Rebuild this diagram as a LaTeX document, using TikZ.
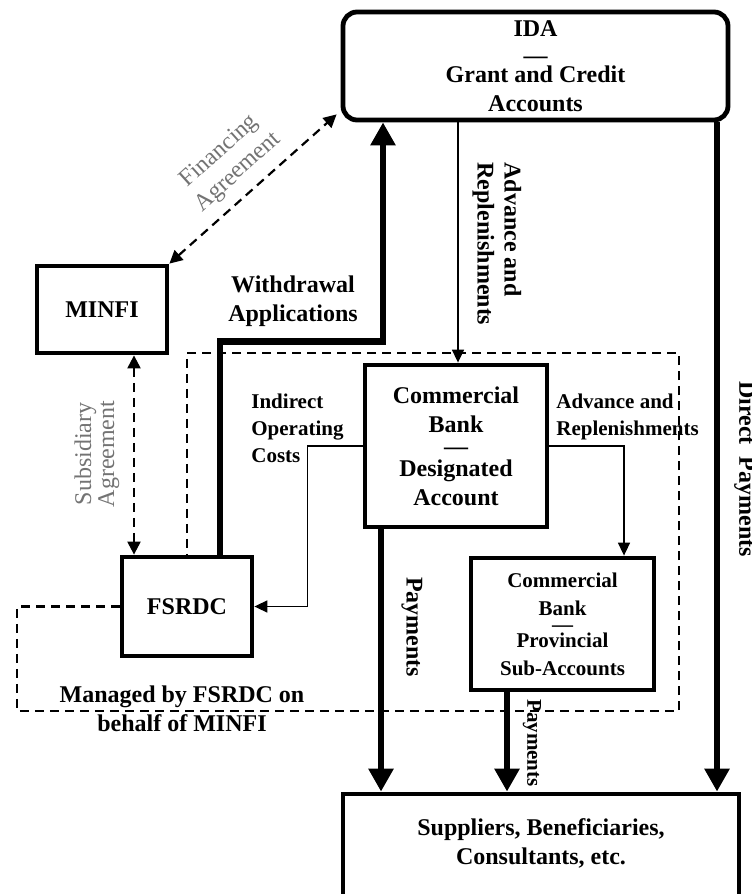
\documentclass[tikz,border=0pt]{standalone}
\usepackage{fontspec}
\setmainfont{Liberation Serif}
\usetikzlibrary{arrows.meta}
\usetikzlibrary{shapes}

\begin{document}
\begin{tikzpicture}[x=0.5pt, y=-0.5pt]

\tikzstyle{account}=[rectangle, draw=black, line width=2.4pt, inner sep=0pt, align=center, font=\bfseries\fontsize{12}{14.5}\selectfont]
\tikzstyle{subaccount}=[account, font=\bfseries\fontsize{10.5}{14}\selectfont]
\tikzstyle{tag}=[align=center, inner sep=0pt, font=\bfseries\fontsize{12}{14.5}\selectfont]
\tikzstyle{smalltag}=[align=left, inner sep=0pt, font=\bfseries\fontsize{10.5}{13.5}\selectfont]
\tikzstyle{greytag}=[align=center, inner sep=0pt, text=black!55, font=\fontsize{12}{14}\selectfont]

\tikzstyle{flow}=[-{Triangle[length=11.5pt, width=12pt]}, line width=3.4pt]
\tikzstyle{transfer}=[-{Triangle[length=6.5pt, width=6pt]}, line width=0.8pt]
\tikzstyle{agreement}=[{Triangle[length=6.5pt, width=6.5pt]}-{Triangle[length=6.5pt, width=6.5pt]}, line width=1.1pt, dash pattern=on 4.5pt off 3pt]
\tikzstyle{managed}=[line width=1.1pt, dash pattern=on 4.5pt off 3pt]

\useasboundingbox (0,0) rectangle (751,894);

\node[account, rounded corners=7pt, minimum width=192.5pt, minimum height=54pt] (ida) at (535.5,66) {IDA\\[-1pt]—\\[-5pt]Grant and Credit\\Accounts};
\node[account, minimum width=65pt, minimum height=43.5pt] (minfi) at (102,309.5) {MINFI};
\node[account, minimum width=65pt, minimum height=49.5pt] (fsrdc) at (187,606.5) {FSRDC};
\node[account, minimum width=91pt, minimum height=81pt] (bank) at (456,446) {Commercial\\Bank\\[-3.5pt]—\\[-3.5pt]Designated\\Account};
\node[subaccount, minimum width=91.5pt, minimum height=66pt] (province) at (562.5,624) {Commercial\\Bank\\[-6pt]—\\[-6pt]Provincial\\Sub-Accounts};
\node[account, minimum width=198pt, minimum height=100pt] (supplier) at (541,894) {};
\node[tag] (suppliertext) at (541,843) {Suppliers, Beneficiaries,\\Consultants, etc.};

\coordinate (regionSW) at (17,711);
\coordinate (regionNE) at (679,353);
\draw[managed] (fsrdc.west) -| (regionSW) -| (regionNE) -| (fsrdc.north);

\draw[agreement] (minfi.north east) -- ([xshift=-2pt, yshift=4pt]ida.south west);
\draw[agreement] ([xshift=16pt]minfi.south) -- ([xshift=16pt]minfi.south |- fsrdc.north);

\draw[flow] ([xshift=16.5pt]fsrdc.north) -- ++(0,-213) -| ([xshift=-76.25pt]ida.south);
\draw[transfer] ([xshift=-38.75pt]ida.south) -- ([xshift=-38.75pt]ida.south |- bank.north);
\draw[flow] ([xshift=90.75pt]ida.south) -- ([xshift=90.75pt]ida.south |- supplier.north);
\draw[transfer] (bank.west) -- ++(-55,0) |- (fsrdc.east);
\draw[transfer] (bank.east) -| ([xshift=30.75pt]province.north);
\draw[flow] ([xshift=-37.5pt]bank.south) -- ([xshift=-37.5pt]bank.south |- supplier.north);
\draw[flow] ([xshift=-27.75pt]province.south) -- ([xshift=-27.75pt]province.south |- supplier.north);

\node[greytag, rotate=42] (financing) at (229,162) {Financing\\Agreement};
\node[greytag, rotate=90, font=\fontsize{12}{11.5}\selectfont] (subsidiary) at (97,454) {Subsidiary\\Agreement};
\node[tag] (withdrawal) at (293,301) {Withdrawal\\Applications};
\node[tag, rotate=-90, align=left, font=\bfseries\fontsize{12}{13.5}\selectfont] (advance) at (497,244) {Advance and\\Replenishments};
\node[smalltag, anchor=west] (indirect) at (251,428) {Indirect\\Operating\\Costs};
\node[smalltag, anchor=west] (advancesub) at (556,417) {Advance and\\Replenishments};
\node[tag, rotate=-90] (payments) at (412,627) {Payments};
\node[tag, rotate=-90, font=\bfseries\fontsize{10.5}{13}\selectfont] (subpayments) at (532,743) {Payments};
\node[tag, rotate=-90] (direct) at (745,469) {Direct\ \ Payments};
\node[tag] (managedby) at (182,709) {Managed by FSRDC on\\behalf of MINFI};

\end{tikzpicture}
\end{document}
